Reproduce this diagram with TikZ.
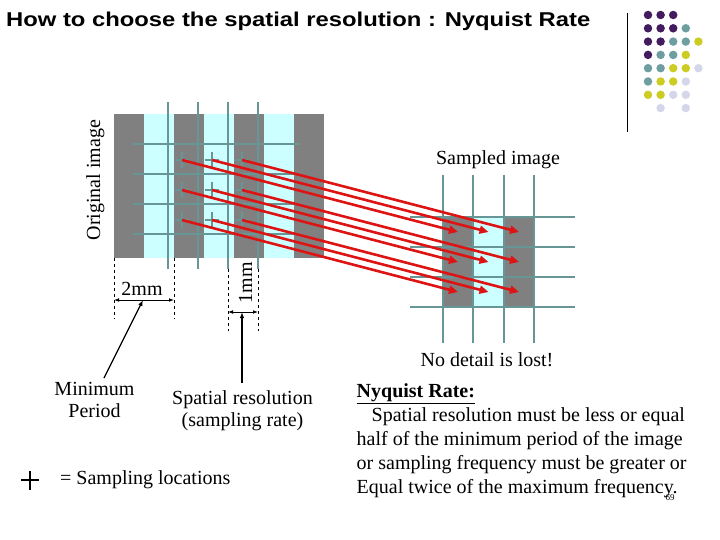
\documentclass[tikz,border=0pt]{standalone}
\usepackage{fontspec}
\setmainfont{Liberation Serif}
\newfontfamily\headfont[FakeStretch = 1.19]{Liberation Sans}
\usetikzlibrary{arrows.meta}
\usetikzlibrary{positioning}

\definecolor{stripegray}{RGB}{128,128,128}
\definecolor{stripecyan}{RGB}{204,255,255}
\definecolor{gridteal}{RGB}{102,150,150}
\definecolor{mapred}{RGB}{221,20,20}
\definecolor{dotpurple}{RGB}{66,28,94}
\definecolor{dotteal}{RGB}{110,158,160}
\definecolor{dotyellow}{RGB}{204,204,34}
\definecolor{dotlilac}{RGB}{214,214,234}

\tikzset {
  % lines of the pixel grid
  grid line/.style = {
    draw = gridteal,
    line width = 2.2pt
  },
  % small cross at a sampling point
  sample mark/.style = {
    draw = gridteal,
    line width = 1.2pt
  },
  % arrow from a sampling point to its pixel
  map arrow/.style = {
    draw = mapred,
    line width = 2.6pt,
    -{Triangle[length = 9pt, width = 8pt]}
  },
  dim line/.style = {
    draw = black,
    line width = 0.9pt,
    {Latex[length = 5pt]}-{Latex[length = 5pt]}
  },
  dim guide/.style = {
    draw = black,
    dashed,
    line width = 0.6pt
  },
  pointer/.style = {
    draw = black,
    line width = 1.3pt,
    -{Latex[length = 6pt]}
  }
}
\tikzset {
  label text/.style = {
    inner sep = 0pt,
    font = \fontsize{20}{22}\selectfont
  },
  deco dot/.style = {
    circle,
    inner sep = 0pt,
    minimum size = 8.5pt
  }
}

\begin{document}
\begin{tikzpicture}[x = 1pt, y = -1pt]
  \useasboundingbox (0,0) rectangle (720,540);

  \node[anchor = base west, inner sep = 0pt,
    font = \headfont\bfseries\fontsize{20}{24}\selectfont] (title) at (6,27)
    {How to choose the spatial resolution : Nyquist Rate};

  % corner decoration
  \draw[line width = 0.8pt] (627,13) -- (627,132);
  \foreach \c/\r/\col in {0/0/dotpurple, 1/0/dotpurple, 2/0/dotpurple,
      0/1/dotpurple, 1/1/dotpurple, 2/1/dotpurple, 3/1/dotteal,
      0/2/dotpurple, 1/2/dotpurple, 2/2/dotteal, 3/2/dotteal, 4/2/dotyellow,
      0/3/dotpurple, 1/3/dotteal, 2/3/dotteal, 3/3/dotyellow,
      0/4/dotteal, 1/4/dotteal, 2/4/dotyellow, 3/4/dotyellow, 4/4/dotlilac,
      0/5/dotteal, 1/5/dotyellow, 2/5/dotyellow, 3/5/dotlilac,
      0/6/dotyellow, 1/6/dotyellow, 2/6/dotlilac, 3/6/dotlilac,
      1/7/dotlilac, 3/7/dotlilac}
    \node[deco dot, fill = \col] (dot-\c-\r) at (648+12.6*\c, 15+13.3*\r) {};

  % original image
  \foreach \k in {0,...,6} {
    \pgfmathparse{mod(\k,2) == 0 ? "stripegray" : "stripecyan"}
    \fill[\pgfmathresult] (114+30*\k,114) rectangle (144+30*\k,258);
  }
  \foreach \x in {168,198,228,258}
    \draw[grid line] (\x,102) -- (\x,269);
  \foreach \y in {144,174,204,234}
    \draw[grid line] (133,\y) -- (300,\y);
  \node[label text, rotate = 90, anchor = base] (orig) at (100,180) {Original image};

  % sampled image
  \fill[stripegray] (443,217) rectangle (473,307);
  \fill[stripecyan] (473,217) rectangle (504,307);
  \fill[stripegray] (504,217) rectangle (534,307);
  \foreach \x in {443,473,504,534}
    \draw[grid line] (\x,175) -- (\x,343);
  \foreach \y in {217,247,277,307}
    \draw[grid line] (410,\y) -- (575,\y);
  \node[label text, anchor = base] (sampled) at (498,165) {Sampled image};

  % sampling points and where they go
  \foreach \i in {0,1,2}
    \foreach \j in {0,1,2} {
      \coordinate (src-\i\j) at (182+30*\i, 160+30*\j);
      \coordinate (dst-\i\j) at (458+30.5*\i, 232+30*\j);
      \draw[sample mark] (src-\i\j) +(-7,0) -- +(7,0) +(0,-8) -- +(0,8);
    }
  \foreach \i in {0,1,2}
    \foreach \j in {0,1,2}
      \draw[map arrow] (src-\i\j) -- (dst-\i\j);

  % minimum period
  \coordinate (per-a) at (114,300);
  \coordinate (per-b) at (174,300);
  \coordinate (per-mid) at (143,300);
  \draw[dim guide] (114,258) -- (114,319);
  \draw[dim guide] (174,258) -- (174,319);
  \draw[dim line] (per-a) -- (per-b);
  \node[label text, anchor = base] (two) at (142,295.5) {2mm};

  % spatial resolution
  \coordinate (res-a) at (228,312);
  \coordinate (res-b) at (258,312);
  \coordinate (res-mid) at (242,312);
  \draw[dim guide] (228,269) -- (228,331);
  \draw[dim guide] (258,269) -- (258,331);
  \draw[dim line] (res-a) -- (res-b);
  \node[label text, rotate = 90, anchor = base] (one) at (252,282.5) {1mm};

  \node[label text, align = center, anchor = north] (minper) at (94.5,382) {Minimum\\Period};
  \node[label text, align = center, anchor = north] (spatres) at (242.5,390) {Spatial resolution\\(sampling rate)};
  \coordinate (minper-tip) at (104,378);
  \draw[pointer] (minper-tip) -- (per-mid);
  \draw[pointer] (spatres.north -| res-mid) ++(0,-7) -- (res-mid);

  % legend
  \coordinate (legend) at (30,480);
  \draw[line width = 1.5pt] (legend) +(-9,0) -- +(9,0) +(0,-9) -- +(0,10);
  \node[label text, anchor = base west] (legend-text) at (60,484) {= Sampling locations};

  % nyquist rate
  \node[label text, anchor = base] (lost) at (487,366.5) {No detail is lost!};
  \node[inner sep = 0pt, align = left, anchor = base west,
    font = \fontsize{20}{24}\selectfont] (nyquist) at (356.5,493.5)
    {\underline{\textbf{Nyquist Rate:}}\\
     \hspace*{15pt}Spatial resolution must be less or equal\\
     half of the minimum period of the image\\
     or sampling frequency must be greater or\\
     Equal twice of the maximum frequency.};
  \node[inner sep = 0pt, font = \fontsize{9}{10}\selectfont, anchor = base] (page) at (670,500) {69};
\end{tikzpicture}
\end{document}
